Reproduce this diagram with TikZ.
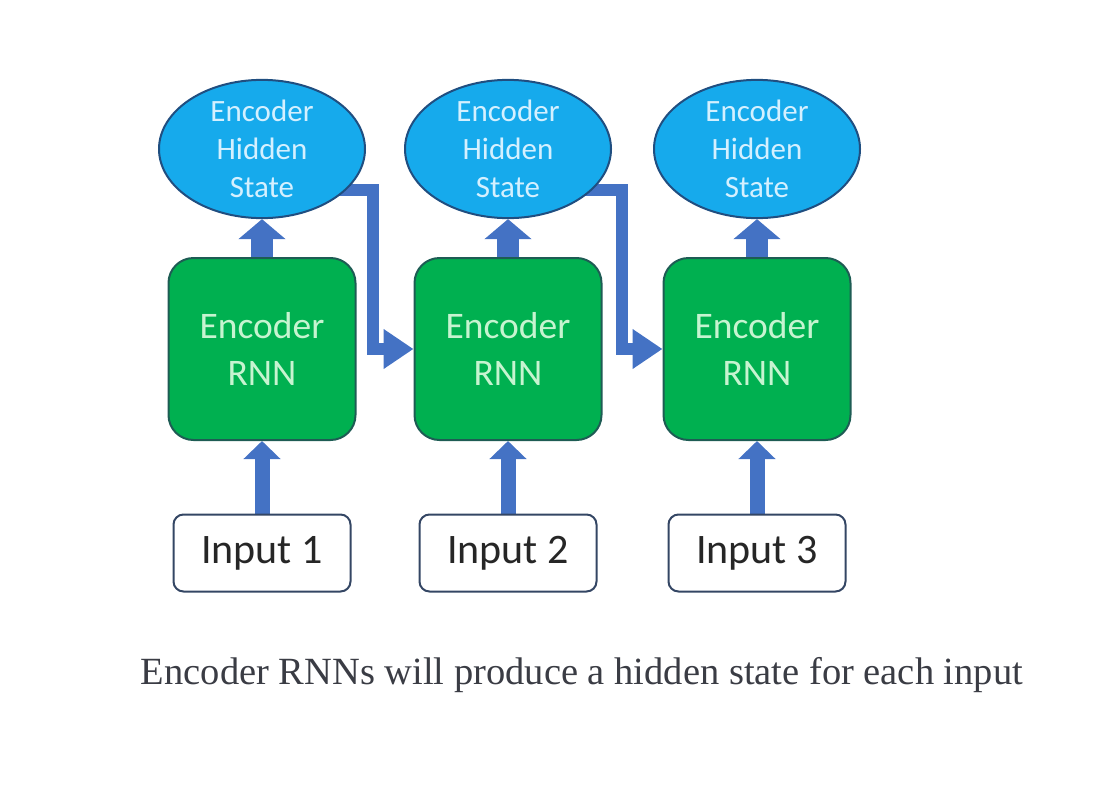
\documentclass[tikz,border=0pt]{standalone}
\usepackage{fontspec}
\setmainfont{Liberation Serif}
\newfontfamily\calib{Carlito}
\usetikzlibrary{arrows.meta,backgrounds,shapes.geometric}
\definecolor{hidfill}{RGB}{22,170,236}
\definecolor{hidline}{RGB}{32,78,128}
\definecolor{rnnfill}{RGB}{0,176,80}
\definecolor{rnnline}{RGB}{30,92,84}
\definecolor{rnntext}{RGB}{198,244,208}
\definecolor{hidtext}{RGB}{212,240,255}
\definecolor{arrblue}{RGB}{68,114,196}
\definecolor{inline}{RGB}{52,70,100}
\definecolor{captext}{RGB}{58,60,68}
\begin{document}
\begin{tikzpicture}[x=1pt,y=-1pt, line join=round, >=Stealth]

		\tikzset{hidden/.style={ellipse, draw=hidline, line width=2pt, fill=hidfill,
				minimum width=206pt, minimum height=130pt, inner sep=0pt, align=center,
				text=hidtext, font=\calib\fontsize{31}{38}\selectfont},
			rnn/.style={draw=rnnline, line width=2pt, fill=rnnfill, rounded corners=25pt,
				minimum width=187pt, minimum height=182pt, align=center,
				text=rnntext, font=\calib\fontsize{37.5}{47}\selectfont},
			inbox/.style={draw=inline, line width=2pt, fill=white, rounded corners=10pt,
				minimum width=177pt, minimum height=77pt, inner sep=0pt,
				text=black!85, font=\calib\fontsize{42}{42}\selectfont},
			upflow/.style={draw=arrblue, line width=22pt, -{Triangle[width=46pt,length=20pt]}},
			inflow/.style={draw=arrblue, line width=15pt, -{Triangle[width=36pt,length=18pt]}},
			elbow/.style={draw=arrblue, line width=12pt, line join=miter,
				-{Triangle[width=38pt,length=30pt]}}}

		\useasboundingbox (0,0) rectangle (1094,792);

		\foreach \i/\x in {1/262,2/508,3/757} {
			\node[hidden] (h\i) at (\x,149) {Encoder\\Hidden\\State};
			\node[rnn] (r\i) at (\x,349) {Encoder\\RNN};
			\node[inbox] (in\i) at (\x,553) {Input \i};
		}

		\begin{pgfonlayer}{background}
		\foreach \i in {1,2,3} {
			\draw[upflow] (r\i.north) -- (h\i.south);
			\draw[inflow] (in\i.north) -- (r\i.south);
		}
		\coordinate (c1) at (373,190);
		\coordinate (c2) at (622,190);
		\draw[elbow] (h1.center |- c1) -- (c1) |- (r2.west);
		\draw[elbow] (h2.center |- c2) -- (c2) |- (r3.west);
		\end{pgfonlayer}

		\node[text=captext, font=\fontsize{38.5}{46}\selectfont] (cap) at (582,675)
			{Encoder RNNs will produce a hidden state for each input};
		\end{tikzpicture}
\end{document}
